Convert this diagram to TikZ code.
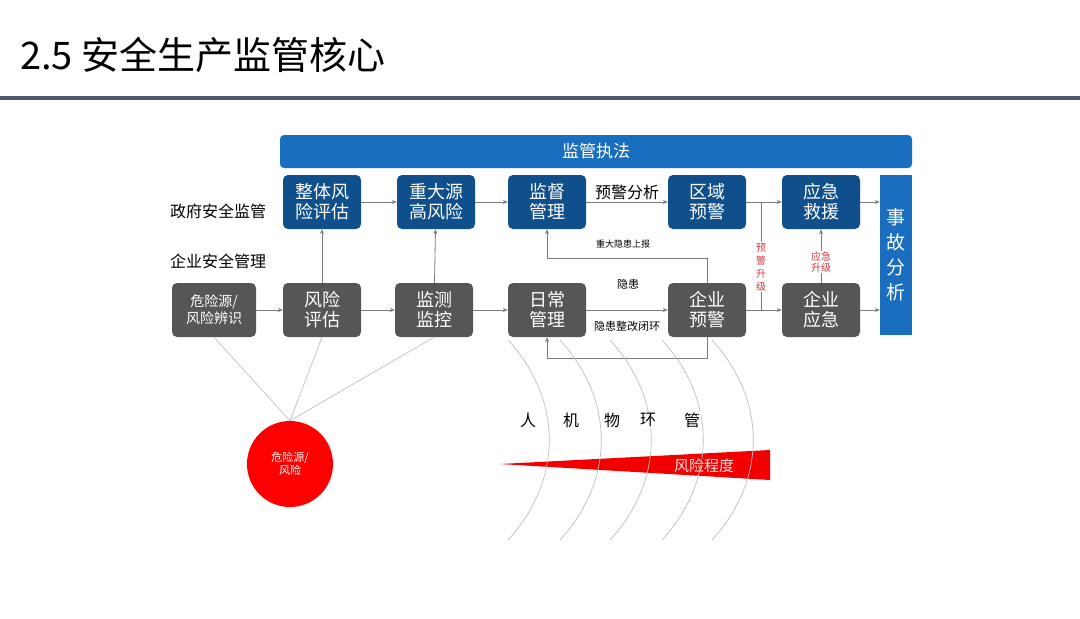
\documentclass[tikz,border=0pt]{standalone}
\usepackage{fontspec}
\setmainfont{Noto Sans CJK SC}
\usetikzlibrary{arrows.meta}
\definecolor{dblue}{HTML}{0F4F8C}
\definecolor{mblue}{HTML}{1A6EC0}
\definecolor{dgray}{HTML}{565656}
\definecolor{lgray}{HTML}{7A7A7A}
\definecolor{escred}{HTML}{D0383E}
\definecolor{rulec}{HTML}{4A5868}
\tikzset{
 topbox/.style={draw=none,fill=dblue,rounded corners=5pt,minimum width=78pt,minimum height=54pt,text=white,font=\fontsize{18}{20}\selectfont,align=center,inner sep=0pt},
 botbox/.style={topbox,fill=dgray},
 arr/.style={draw=lgray,line width=0.8pt,-{Stealth[length=5pt,width=4pt]}},
 ln/.style={draw=lgray,line width=0.8pt},
 thin/.style={draw=black!25,line width=0.7pt},
 lbl/.style={font=\fontsize{16}{18}\selectfont,inner sep=1pt},
 red/.style={text=escred,font=\fontsize{10}{11}\selectfont,align=center,fill=white,inner sep=1pt}
}
\begin{document}
\begin{tikzpicture}[x=1pt,y=-1pt]
\useasboundingbox (0,0) rectangle (1080,619);
\fill[white] (0,0) rectangle (1080,619);
\node[anchor=west,font=\fontsize{38}{40}\selectfont,inner sep=0pt] (title) at (20,55) {2.5 安全生产监管核心};
\fill[rulec] (0,96) rectangle (1080,100);
\node[fill=mblue,rounded corners=4pt,minimum width=632pt,minimum height=33pt,text=white,font=\fontsize{17}{19}\selectfont,inner sep=0pt] (ban) at (596,151.5) {监管执法};
\node[fill=mblue,minimum width=32pt,minimum height=160pt,text=white,font=\fontsize{19}{25}\selectfont,align=center,inner sep=0pt] (sg) at (896,255) {事\\故\\分\\析};
% top row
\node[topbox] (t1) at (322,202) {整体风\\险评估};
\node[topbox] (t2) at (436,202) {重大源\\高风险};
\node[topbox] (t3) at (547,202) {监督\\管理};
\node[topbox] (t4) at (707,202) {区域\\预警};
\node[topbox] (t5) at (821,202) {应急\\救援};
% bottom row
\node[botbox,minimum width=84pt,font=\fontsize{14}{17}\selectfont] (b0) at (214,310) {危险源/\\风险辨识};
\node[botbox] (b1) at (322,310) {风险\\评估};
\node[botbox] (b2) at (434,310) {监测\\监控};
\node[botbox] (b3) at (547,310) {日常\\管理};
\node[botbox] (b4) at (707,310) {企业\\预警};
\node[botbox] (b5) at (821,310) {企业\\应急};
\node[lbl,anchor=center] (g1) at (218,211) {政府安全监管};
\node[lbl,anchor=center] (g2) at (218,261) {企业安全管理};
% arrows
\draw[arr] (t1) -- (t2);
\draw[arr] (t2) -- (t3);
\draw[arr] (t3) -- node[above=1pt,lbl,fill=white] (yj) {预警分析} (t4);
\draw[arr] (t4) -- (t5);
\draw[arr] (t5) -- (t5 -| sg.west);
\draw[arr] (b0) -- (b1);
\draw[arr] (b1) -- (b2);
\draw[arr] (b2) -- (b3);
\draw[arr] (b1) -- (t1);
\draw[arr] (b2) -- (t2);
\draw[arr] (b3) -- (b4);
\draw[arr] (b4) -- (b5);
\draw[arr] (b5) -- (b5 -| sg.west);
\node[font=\fontsize{11}{12}\selectfont] (yh) at (628,284) {隐患};
\node[font=\fontsize{11}{12}\selectfont,fill=white,inner sep=1pt] (yhz) at (627,326) {隐患整改闭环};
\coordinate (u1) at (707,258); \coordinate (u2) at (547,258);
\draw[arr] (b4.north) -- (u1) -- (u2) -- (t3.south);
\node[font=\fontsize{9}{10}\selectfont] (zd) at (623,244) {重大隐患上报};
\coordinate (d1) at (707,358); \coordinate (d2) at (547,358);
\draw[arr] (b4.south) -- (d1) -- (d2) -- (b3.south);
\coordinate (v1) at (761,202); \coordinate (v2) at (761,310);
\draw[ln] (v1) -- (v2);
\node[red,font=\fontsize{10}{13}\selectfont] (yjs) at (761,267) {预\\警\\升\\级};
\draw[arr] (b5) -- (t5);
\node[red] (yjj) at (821,262) {应急\\升级};
% circle
\node[circle,fill=red,minimum size=86pt,text=white,font=\fontsize{11}{13}\selectfont,align=center,inner sep=0pt] (c) at (290,464) {危险源/\\风险};
\draw[thin] (c.north) -- (b0.south);
\draw[thin] (c.north) -- (b1.south);
\draw[thin] (c.north) -- (b2.south);
% wedge
\fill[red!95!black] (500,464) -- (770,450) -- (770,480) -- cycle;
\node[text=white!90!red,font=\fontsize{15}{17}\selectfont] (fx) at (704,466) {风险程度};
% arcs
\foreach \xx in {508,560,610,662,712}{
  \draw[thin] (\xx,340) .. controls (\xx+55,400) and (\xx+55,480) .. (\xx,540);
}
\foreach \t/\xx in {人/528,机/571,物/612,环/648,管/692}{
  \node[font=\fontsize{16}{18}\selectfont,fill=white,inner sep=1pt] at (\xx,420) {\t};
}
\end{tikzpicture}
\end{document}
